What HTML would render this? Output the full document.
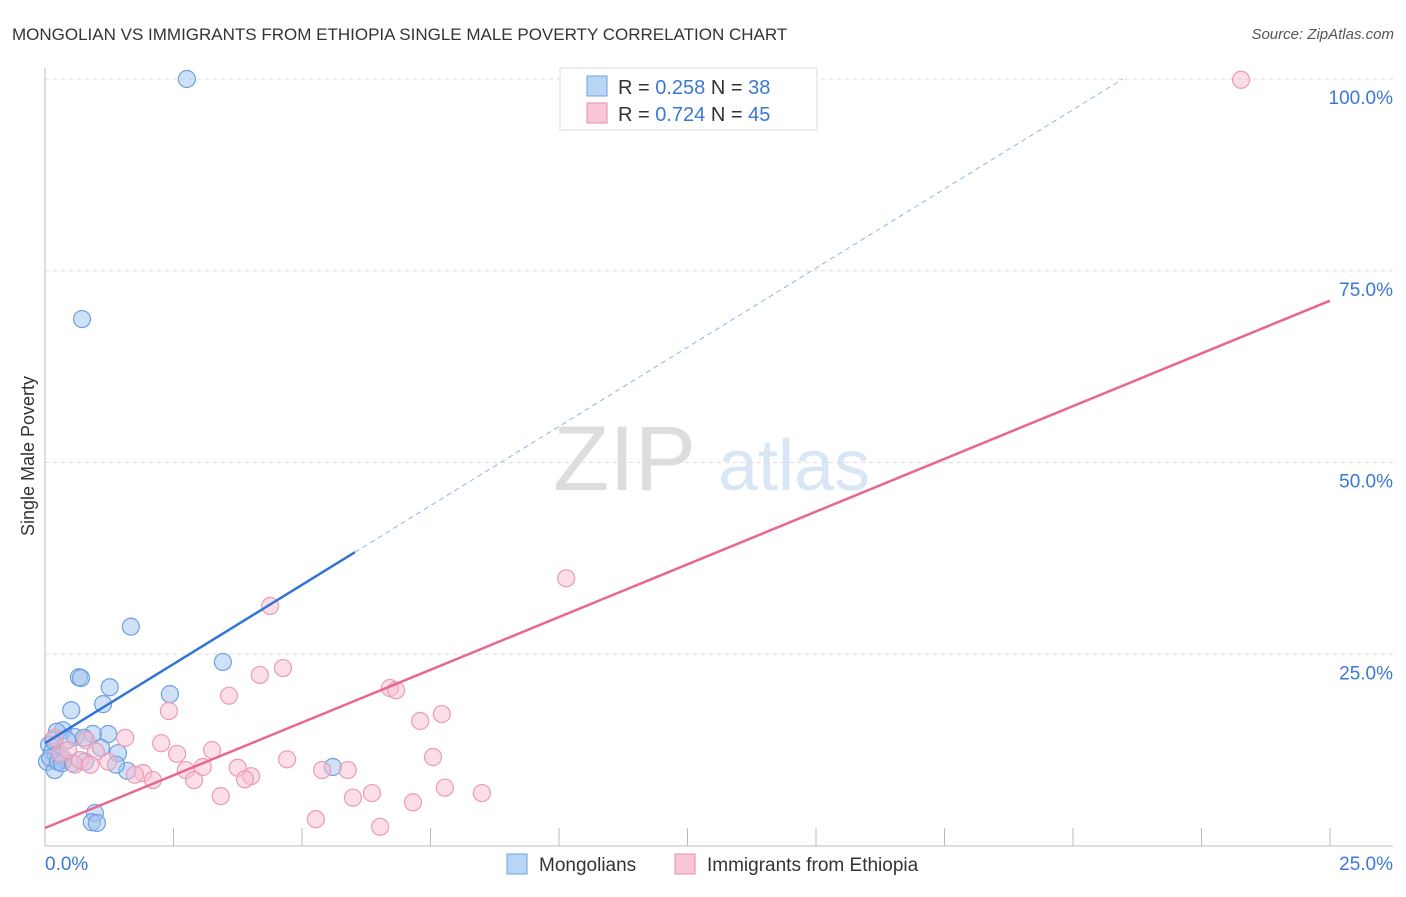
<!DOCTYPE html>
<html><head><meta charset="utf-8"><style>
body{margin:0;background:#fff;font-family:"Liberation Sans",sans-serif}
svg text{font-family:"Liberation Sans",sans-serif}
</style></head><body>
<svg id="c" width="1406" height="892">
<text x="12" y="40" font-size="17" fill="#333">MONGOLIAN VS IMMIGRANTS FROM ETHIOPIA SINGLE MALE POVERTY CORRELATION CHART</text>
<text x="1394" y="39" font-size="15" fill="#555" font-style="italic" text-anchor="end">Source: ZipAtlas.com</text>
<text transform="translate(34,456) rotate(-90)" font-size="18" fill="#333" text-anchor="middle">Single Male Poverty</text>
<text x="553" y="490" font-size="92" fill="#ddd" font-family="Liberation Serif">ZIP</text>
<text x="718" y="490" font-size="72" fill="#d8e6f6">atlas</text>
<g id="grid"></g><g id="axes"></g><g id="pts"></g><g id="lines"></g>
<g>
<rect x="560" y="68" width="257" height="62" fill="#fff" stroke="#ddd"/>
<rect x="587" y="76" width="20" height="20" fill="#b9d5f5" stroke="#6f9fe0"/>
<rect x="587" y="103" width="20" height="20" fill="#f8c6d5" stroke="#e98cab"/>
<text x="618" y="94" font-size="20" fill="#333">R = <tspan fill="#3a78d8">0.258</tspan>   N = <tspan fill="#3a78d8">38</tspan></text>
<text x="618" y="121" font-size="20" fill="#333">R = <tspan fill="#3a78d8">0.724</tspan>   N = <tspan fill="#3a78d8">45</tspan></text>
</g>
<g>
<rect x="507" y="854" width="20" height="20" fill="#b9d5f5" stroke="#6f9fe0"/>
<text x="539" y="871" font-size="19" fill="#333">Mongolians</text>
<rect x="675" y="854" width="20" height="20" fill="#f8c6d5" stroke="#e98cab"/>
<text x="707" y="871" font-size="19" fill="#333">Immigrants from Ethiopia</text>
</g>
</svg>
<script>
const blueX=[2.76,.72,1.67,3.46,.66,.70,1.26,2.43,1.13,.51,.35,.23,1.23,.93,.58,.76,1.42,1.09,.08,.14,.21,.29,.37,.04,.19,.78,1.60,1.38,5.60,.97,.91,1.01,.16,.43,.10,.25,.33,.54];
const blueY=[100,68.7,28.6,24.0,22.0,21.9,20.7,19.8,18.5,17.7,15.1,14.9,14.6,14.6,14.2,14.1,12.1,12.8,13.2,12.3,11.9,11.6,11.2,11.0,9.9,11.0,9.8,10.6,10.3,4.3,3.1,3.0,13.8,13.8,11.5,11.0,10.8,10.8];
const pinkX=[23.27,10.14,4.38,4.63,4.18,6.71,6.83,3.58,2.41,7.30,7.72,1.56,.80,2.26,3.25,2.57,.99,7.55,4.71,1.23,.58,3.75,3.07,2.74,4.01,1.91,2.10,2.90,3.89,5.39,5.89,5.99,6.36,7.16,7.78,8.50,3.42,5.27,6.52,.29,.45,.68,.88,.19,1.75];
const pinkY=[99.9,34.9,31.3,23.2,22.3,20.6,20.3,19.6,17.6,16.3,17.2,14.1,13.8,13.4,12.5,12.0,12.3,11.6,11.3,11.0,10.6,10.2,10.3,9.9,9.1,9.5,8.6,8.6,8.7,9.9,9.9,6.3,6.9,5.7,7.6,6.9,6.5,3.5,2.5,12.1,12.5,11.2,10.6,14.1,9.3];
const yTicks=[25,50,75,100];
const yTickLabels=["25.0%","50.0%","75.0%","100.0%"];
const xTickVals=[2.5,5,7.5,10,12.5,15,17.5,20,22.5,25];
const blueTrend=[13.4,4.13]; // intercept, slope
const pinkTrend=[2.35,2.75];
const NS="http://www.w3.org/2000/svg";
const sx=v=>45+v*51.4, sy=v=>846-v*7.67;
function mk(t,a,p){const e=document.createElementNS(NS,t);for(const k in a)e.setAttribute(k,a[k]);p.appendChild(e);return e;}
const grid=document.getElementById('grid'),axes=document.getElementById('axes'),pts=document.getElementById('pts'),lines=document.getElementById('lines');
yTicks.forEach((v,i)=>{
 const l=mk('line',{x1:45,x2:1393,y1:sy(v),y2:sy(v),stroke:'#ddd','stroke-dasharray':'4,4'},grid);
 
 
 const t=mk('text',{x:1393,y:sy(v)+25,'font-size':19,fill:'#3a78d8','text-anchor':'end'},axes);
 t.textContent=yTickLabels[i];
 
 
});
let a=mk('line',{x1:45,x2:45,y1:68,y2:846,stroke:'#bbb'},axes);


a=mk('line',{x1:45,x2:1393,y1:846,y2:846,stroke:'#bbb'},axes);


xTickVals.forEach(v=>{
 const l=mk('line',{x1:sx(v),x2:sx(v),y1:828,y2:846,stroke:'#bbb'},axes);
 
 
});
let t=mk('text',{x:45,y:870,'font-size':19,fill:'#3a78d8'},axes);t.textContent='0.0%';


t=mk('text',{x:1393,y:870,'font-size':19,fill:'#3a78d8','text-anchor':'end'},axes);t.textContent='25.0%';


blueX.forEach((x,i)=>{
 const c=mk('circle',{cx:sx(x),cy:sy(blueY[i]),r:8.5,fill:'rgba(160,196,240,0.5)',stroke:'#6f9fe0','stroke-width':1.2},pts);
 
 
});
pinkX.forEach((x,i)=>{
 const c=mk('circle',{cx:sx(x),cy:sy(pinkY[i]),r:8.5,fill:'rgba(248,190,208,0.5)',stroke:'#ec9bb5','stroke-width':1.2},pts);
 
 
});
let l=mk('line',{x1:sx(0),y1:sy(blueTrend[0]),x2:sx(6.03),y2:sy(blueTrend[0]+blueTrend[1]*6.03),stroke:'#2f74d6','stroke-width':2.5},lines);


const xe=(100-blueTrend[0])/blueTrend[1];
l=mk('line',{x1:sx(6.03),y1:sy(blueTrend[0]+blueTrend[1]*6.03),x2:sx(xe),y2:sy(100),stroke:'#8fb3e6','stroke-width':1,'stroke-dasharray':'5,4'},lines);


l=mk('line',{x1:sx(0),y1:sy(pinkTrend[0]),x2:sx(25),y2:sy(pinkTrend[0]+pinkTrend[1]*25),stroke:'#e8678f','stroke-width':2.5},lines);


</script>
</body></html>
